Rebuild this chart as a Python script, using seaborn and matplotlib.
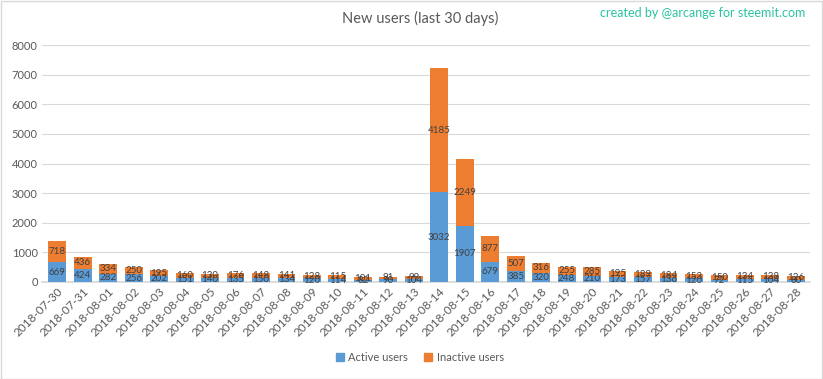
import matplotlib
matplotlib.use("Agg")
import matplotlib.pyplot as plt
import seaborn as sns
import pandas as pd
from matplotlib.patches import Patch

dates = ["2018-07-30", "2018-07-31", "2018-08-01", "2018-08-02", "2018-08-03",
         "2018-08-04", "2018-08-05", "2018-08-06", "2018-08-07", "2018-08-08",
         "2018-08-09", "2018-08-10", "2018-08-11", "2018-08-12", "2018-08-13",
         "2018-08-14", "2018-08-15", "2018-08-16", "2018-08-17", "2018-08-18",
         "2018-08-19", "2018-08-20", "2018-08-21", "2018-08-22", "2018-08-23",
         "2018-08-24", "2018-08-25", "2018-08-26", "2018-08-27", "2018-08-28"]
active = [669, 424, 282, 256, 202, 151, 140, 135, 150, 134, 120, 114, 82, 90, 104,
          3032, 1907, 679, 385, 320, 248, 210, 173, 157, 136, 120, 72, 115, 104, 80]
inactive = [718, 436, 334, 250, 195, 160, 130, 176, 148, 141, 128, 115, 101, 91, 99,
            4185, 2249, 877, 507, 316, 255, 285, 195, 189, 184, 153, 150, 134, 138, 126]
yticks = [0, 1000, 2000, 3000, 4000, 5000, 6000, 7000, 8000]

BLUE = "#5B9BD5"
ORANGE = "#ED7D31"
TXT = "#595959"

sns.set_theme(style="white")
plt.rcParams["font.family"] = ["Lato", "DejaVu Sans"]

df = pd.DataFrame({"date": dates, "active": active, "inactive": inactive})
df["total"] = df["active"] + df["inactive"]

fig = plt.figure(figsize=(8.23, 3.79), dpi=100)
ax = fig.add_axes([0.051, 0.256, 0.933, 0.625])

sns.barplot(data=df, x="date", y="total", color=ORANGE, width=0.7, ax=ax,
            saturation=1, zorder=3, linewidth=0)
sns.barplot(data=df, x="date", y="active", color=BLUE, width=0.7, ax=ax,
            saturation=1, zorder=3, linewidth=0)

for i, (a, b) in enumerate(zip(active, inactive)):
    ax.text(i, a / 2, str(a), ha="center", va="center", fontsize=7, color="#404040", zorder=4)
    ax.text(i, a + b / 2, str(b), ha="center", va="center", fontsize=7, color="#404040", zorder=4)

ax.set_ylim(0, 8000)
ax.set_xlim(-0.6, len(dates) - 0.45)
ax.set_yticks(yticks)
ax.set_yticklabels([str(v) for v in yticks], fontsize=8, color=TXT)
ax.set_xticks(range(len(dates)))
ax.set_xticklabels(dates, rotation=45, ha="right", rotation_mode="anchor", fontsize=8.5, color=TXT)
ax.tick_params(axis="both", length=0, pad=3)
ax.set_xlabel("")
ax.set_ylabel("")
ax.grid(axis="y", color="#D9D9D9", linewidth=0.8, zorder=0)
for s in ["top", "right", "left"]:
    ax.spines[s].set_visible(False)
ax.spines["bottom"].set_color("#D9D9D9")

fig.text(0.51, 0.952, "New users (last 30 days)", ha="center", va="center", fontsize=10.5, color=TXT)
fig.text(0.978, 0.965, "created by @arcange for steemit.com", ha="right", va="center",
         fontsize=9, color="#2BC3A0")

handles = [Patch(color=BLUE, label="Active users"), Patch(color=ORANGE, label="Inactive users")]
fig.legend(handles=handles, loc="center", bbox_to_anchor=(0.51, 0.057), ncol=2, frameon=False,
           fontsize=8, handlelength=0.7, handleheight=0.7, handletextpad=0.4, columnspacing=1.5,
           labelcolor=TXT)

border = plt.Rectangle((0.001, 0.001), 0.998, 0.997, transform=fig.transFigure, fill=False,
                       edgecolor="#D9D9D9", linewidth=1)
fig.patches.append(border)

fig.savefig("out.png", dpi=100)
